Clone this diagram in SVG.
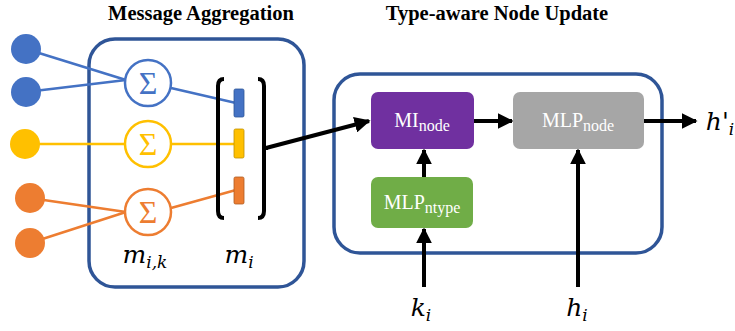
<svg xmlns="http://www.w3.org/2000/svg" width="735" height="331" viewBox="0 0 735 331">
<defs>
<marker id="ah" viewBox="0 0 10 10" refX="9" refY="5" markerWidth="4" markerHeight="4" orient="auto" markerUnits="strokeWidth">
<path d="M0,0 L10,5 L0,10 z" fill="#000"/>
</marker>
<style>
.frame{fill:#fff;stroke:#2F5597;stroke-width:3.5}
.title{font-family:"Liberation Serif",serif;font-weight:bold;font-size:20.5px;fill:#000;text-anchor:middle}
.math{font-family:"DejaVu Serif","Liberation Serif",serif;font-style:italic;font-size:25px;fill:#000;text-anchor:middle}
.mathsub{font-size:17px}
.lbl{font-family:"Liberation Serif",serif;font-size:20px;fill:#fff;text-anchor:middle}
.sub{font-size:16px}
.sig{font-family:"Liberation Serif",serif;font-size:32px;text-anchor:middle}
.blk{stroke:#000;stroke-width:4;fill:none}
.conn{stroke:#000;stroke-width:4;fill:none;marker-end:url(#ah)}
</style>
</defs>
<text class="title" x="201" y="20">Message Aggregation</text>
<text class="title" x="497" y="20">Type-aware Node Update</text>
<g id="agg-box"><rect class="frame" x="89" y="39" width="215" height="248" rx="26"/></g>
<g id="update-box"><rect class="frame" x="334" y="74" width="328" height="179" rx="26"/></g>
<g id="connectors">
<g stroke="#4472C4" stroke-width="2.5">
<line x1="26" y1="49" x2="126" y2="80"/>
<line x1="26" y1="92" x2="126" y2="80"/>
<line x1="171" y1="88" x2="236" y2="103"/>
</g>
<g stroke="#FFC000" stroke-width="2.5">
<line x1="25" y1="144" x2="125" y2="144"/>
<line x1="171" y1="144" x2="236" y2="144"/>
</g>
<g stroke="#ED7D31" stroke-width="2.5">
<line x1="30" y1="198" x2="126" y2="212"/>
<line x1="30" y1="243" x2="126" y2="212"/>
<line x1="171" y1="208" x2="236" y2="190"/>
</g>
<line class="conn" x1="266" y1="148" x2="369" y2="121"/>
<line class="conn" x1="474" y1="121" x2="512" y2="121"/>
<line class="conn" x1="644" y1="121" x2="696" y2="121"/>
<line class="conn" x1="424" y1="177" x2="424" y2="150"/>
<line class="conn" x1="424" y1="287" x2="424" y2="229"/>
<line class="conn" x1="578" y1="287" x2="578" y2="150"/>
</g>
<g id="in-blue-1"><circle cx="26" cy="49" r="15" fill="#4472C4"/></g>
<g id="in-blue-2"><circle cx="26" cy="92" r="15" fill="#4472C4"/></g>
<g id="in-yellow"><circle cx="25" cy="144" r="15" fill="#FFC000"/></g>
<g id="in-orange-1"><circle cx="30" cy="198" r="15" fill="#ED7D31"/></g>
<g id="in-orange-2"><circle cx="30" cy="243" r="15" fill="#ED7D31"/></g>
<g id="sum-blue"><circle cx="148" cy="83" r="23" fill="#fff" stroke="#4472C4" stroke-width="2.5"/><text class="sig" x="148" y="94" fill="#4472C4">Σ</text></g>
<g id="sum-yellow"><circle cx="148" cy="144" r="23" fill="#fff" stroke="#FFC000" stroke-width="2.5"/><text class="sig" x="148" y="155" fill="#FFC000">Σ</text></g>
<g id="sum-orange"><circle cx="148" cy="212" r="23" fill="#fff" stroke="#ED7D31" stroke-width="2.5"/><text class="sig" x="148" y="223" fill="#ED7D31">Σ</text></g>
<g id="vector">
<path class="blk" d="M224,79 Q218,79 218,86 L218,211 Q218,218 224,218"/>
<path class="blk" d="M258,79 Q264,79 264,86 L264,211 Q264,218 258,218"/>
<line class="blk" x1="264" y1="148" x2="268" y2="148"/>
<rect x="234" y="89" width="10" height="28" rx="1.5" fill="#4472C4" stroke="#2F5597" stroke-width="0.8"/>
<rect x="234" y="129" width="10" height="29" rx="1.5" fill="#FFC000" stroke="#BF9000" stroke-width="0.8"/>
<rect x="234" y="177" width="10" height="27" rx="1.5" fill="#ED7D31" stroke="#AE5A21" stroke-width="0.8"/>
</g>
<text class="math" x="145" y="263">m<tspan class="mathsub" dy="5">i,k</tspan></text>
<text class="math" x="239" y="263">m<tspan class="mathsub" dy="5">i</tspan></text>
<g id="mi-node"><rect x="371" y="92" width="103" height="57" rx="7" fill="#7030A0"/><text class="lbl" x="422" y="127">MI<tspan class="sub" dy="4">node</tspan></text></g>
<g id="mlp-node"><rect x="513" y="92" width="131" height="57" rx="7" fill="#A6A6A6"/><text class="lbl" x="578" y="127">MLP<tspan class="sub" dy="4">node</tspan></text></g>
<g id="mlp-ntype"><rect x="371" y="177" width="102" height="51" rx="7" fill="#70AD47"/><text class="lbl" x="422" y="209">MLP<tspan class="sub" dy="4">ntype</tspan></text></g>
<text class="math" x="720" y="130">h'<tspan class="mathsub" dy="5">i</tspan></text>
<text class="math" x="421" y="316">k<tspan class="mathsub" dy="5">i</tspan></text>
<text class="math" x="577" y="316">h<tspan class="mathsub" dy="5">i</tspan></text>
</svg>
